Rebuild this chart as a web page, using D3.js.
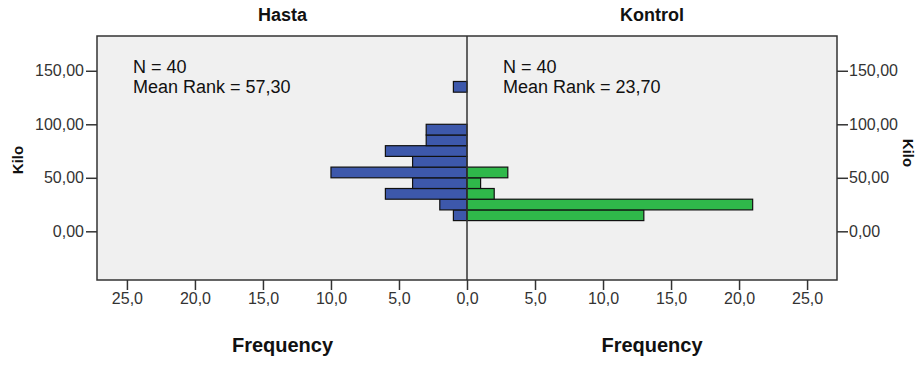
<!DOCTYPE html>
<html>
<head>
<meta charset="utf-8">
<script src="https://cdn.jsdelivr.net/npm/d3@7"></script>
<style>
  body { margin: 0; background: #fff; }
  text { font-family: "Liberation Sans", Arial, sans-serif; fill: #222; }
  .title, .axis-title { font-weight: bold; fill: #111; }
</style>
</head>
<body>
<svg class="pyramid-frame"></svg>
<script>
// Kilo bins (lower bound of each 10 kg bin)
const binStarts = [10, 20, 30, 40, 50, 60, 70, 80, 90, 130];
const binWidth = 10;
const hastaCounts = [1, 2, 6, 4, 10, 4, 6, 3, 3, 1];
const kontrolCounts = [13, 21, 2, 1, 3, 0, 0, 0, 0, 0];
const groups = ["Hasta", "Kontrol"];
const groupInfo = ["N = 40|Mean Rank = 57,30", "N = 40|Mean Rank = 23,70"];
const freqTicks = [0, 5, 10, 15, 20, 25];
const kiloTicks = [0, 50, 100, 150];

const width = 920, height = 369;
const plot = {left: 97, right: 837, top: 36, bottom: 280};
const mid = 467;

const svg = d3.select(".pyramid-frame")
  .attr("width", width)
  .attr("height", height);

const locale = d3.formatLocale({decimal: ",", thousands: ".", grouping: [3], currency: ["", ""]});
const fmtFreq = locale.format(".1f");
const fmtKilo = locale.format(".2f");

const yScale = d3.scaleLinear()
  .domain([-45.5, 182.5])
  .range([plot.bottom, plot.top]);

const xLeft = d3.scaleLinear()
  .domain([0, 27.2])
  .range([mid, plot.left]);

const xRight = d3.scaleLinear()
  .domain([0, 27.2])
  .range([mid, plot.right]);

// plot background
svg.append("rect")
  .attr("x", plot.left)
  .attr("y", plot.top)
  .attr("width", plot.right - plot.left)
  .attr("height", plot.bottom - plot.top)
  .style("fill", "#f0f0f0");

const rows = binStarts.map((b, i) => ({lo: b, hi: b + binWidth, hasta: hastaCounts[i], kontrol: kontrolCounts[i]}));

svg.selectAll(".bar-hasta")
  .data(rows.filter(d => d.hasta > 0))
  .enter().append("rect")
  .attr("class", "bar-hasta")
  .style("fill", "#3d58ab")
  .style("stroke", "#111")
  .style("stroke-width", 1.2)
  .attr("x", d => xLeft(d.hasta))
  .attr("width", d => xLeft(0) - xLeft(d.hasta))
  .attr("y", d => yScale(d.hi))
  .attr("height", d => yScale(d.lo) - yScale(d.hi));

svg.selectAll(".bar-kontrol")
  .data(rows.filter(d => d.kontrol > 0))
  .enter().append("rect")
  .attr("class", "bar-kontrol")
  .style("fill", "#2fb84a")
  .style("stroke", "#111")
  .style("stroke-width", 1.2)
  .attr("x", xRight(0))
  .attr("width", d => xRight(d.kontrol) - xRight(0))
  .attr("y", d => yScale(d.hi))
  .attr("height", d => yScale(d.lo) - yScale(d.hi));

// frame and centre line
svg.append("rect")
  .attr("x", plot.left)
  .attr("y", plot.top)
  .attr("width", plot.right - plot.left)
  .attr("height", plot.bottom - plot.top)
  .style("fill", "none")
  .style("stroke", "#333")
  .style("stroke-width", 1.5);

svg.append("line")
  .attr("x1", mid).attr("x2", mid)
  .attr("y1", plot.top).attr("y2", plot.bottom)
  .style("stroke", "#333")
  .style("stroke-width", 1.5);

// axes
function styleAxis(g) {
  g.select(".domain").remove();
  g.selectAll(".tick line").style("stroke", "#333").style("stroke-width", 1.5);
  g.selectAll(".tick text").style("font-size", "16px").style("font-family", "'Liberation Sans', Arial, sans-serif").style("fill", "#333");
}

svg.append("g")
  .attr("transform", "translate(0," + plot.bottom + ")")
  .call(d3.axisBottom(xLeft).tickValues(freqTicks).tickFormat(fmtFreq).tickSizeInner(10).tickPadding(3))
  .call(styleAxis);

svg.append("g")
  .attr("transform", "translate(0," + plot.bottom + ")")
  .call(d3.axisBottom(xRight).tickValues(freqTicks.slice(1)).tickFormat(fmtFreq).tickSizeInner(10).tickPadding(3))
  .call(styleAxis);

svg.append("g")
  .attr("transform", "translate(" + plot.left + ",0)")
  .call(d3.axisLeft(yScale).tickValues(kiloTicks).tickFormat(fmtKilo).tickSizeInner(11).tickPadding(2))
  .call(styleAxis);

svg.append("g")
  .attr("transform", "translate(" + plot.right + ",0)")
  .call(d3.axisRight(yScale).tickValues(kiloTicks).tickFormat(fmtKilo).tickSizeInner(11).tickPadding(1))
  .call(styleAxis);

// titles
const centers = [(plot.left + mid) / 2 + 0.5, (mid + plot.right) / 2];

groups.forEach((name, i) => {
  svg.append("text")
    .attr("class", "title")
    .attr("x", centers[i])
    .attr("y", 21)
    .attr("text-anchor", "middle")
    .style("font-size", "18px")
    .text(name);

  svg.append("text")
    .attr("class", "axis-title")
    .attr("x", centers[i])
    .attr("y", 352)
    .attr("text-anchor", "middle")
    .style("font-size", "20px")
    .text("Frequency");

  const lines = groupInfo[i].split("|");
  const x0 = (i === 0 ? plot.left : mid) + 36;
  lines.forEach((l, j) => {
    svg.append("text")
      .attr("x", x0)
      .attr("y", 72.5 + j * 20.8)
      .style("font-size", "18px")
      .style("fill", "#111")
      .text(l);
  });
});

svg.append("text")
  .attr("class", "axis-title")
  .attr("transform", "translate(23,160) rotate(-90)")
  .attr("text-anchor", "middle")
  .style("font-size", "15px")
  .text("Kilo");

svg.append("text")
  .attr("class", "axis-title")
  .attr("transform", "translate(903,153) rotate(90)")
  .attr("text-anchor", "middle")
  .style("font-size", "15px")
  .text("Kilo");
</script>
</body>
</html>
